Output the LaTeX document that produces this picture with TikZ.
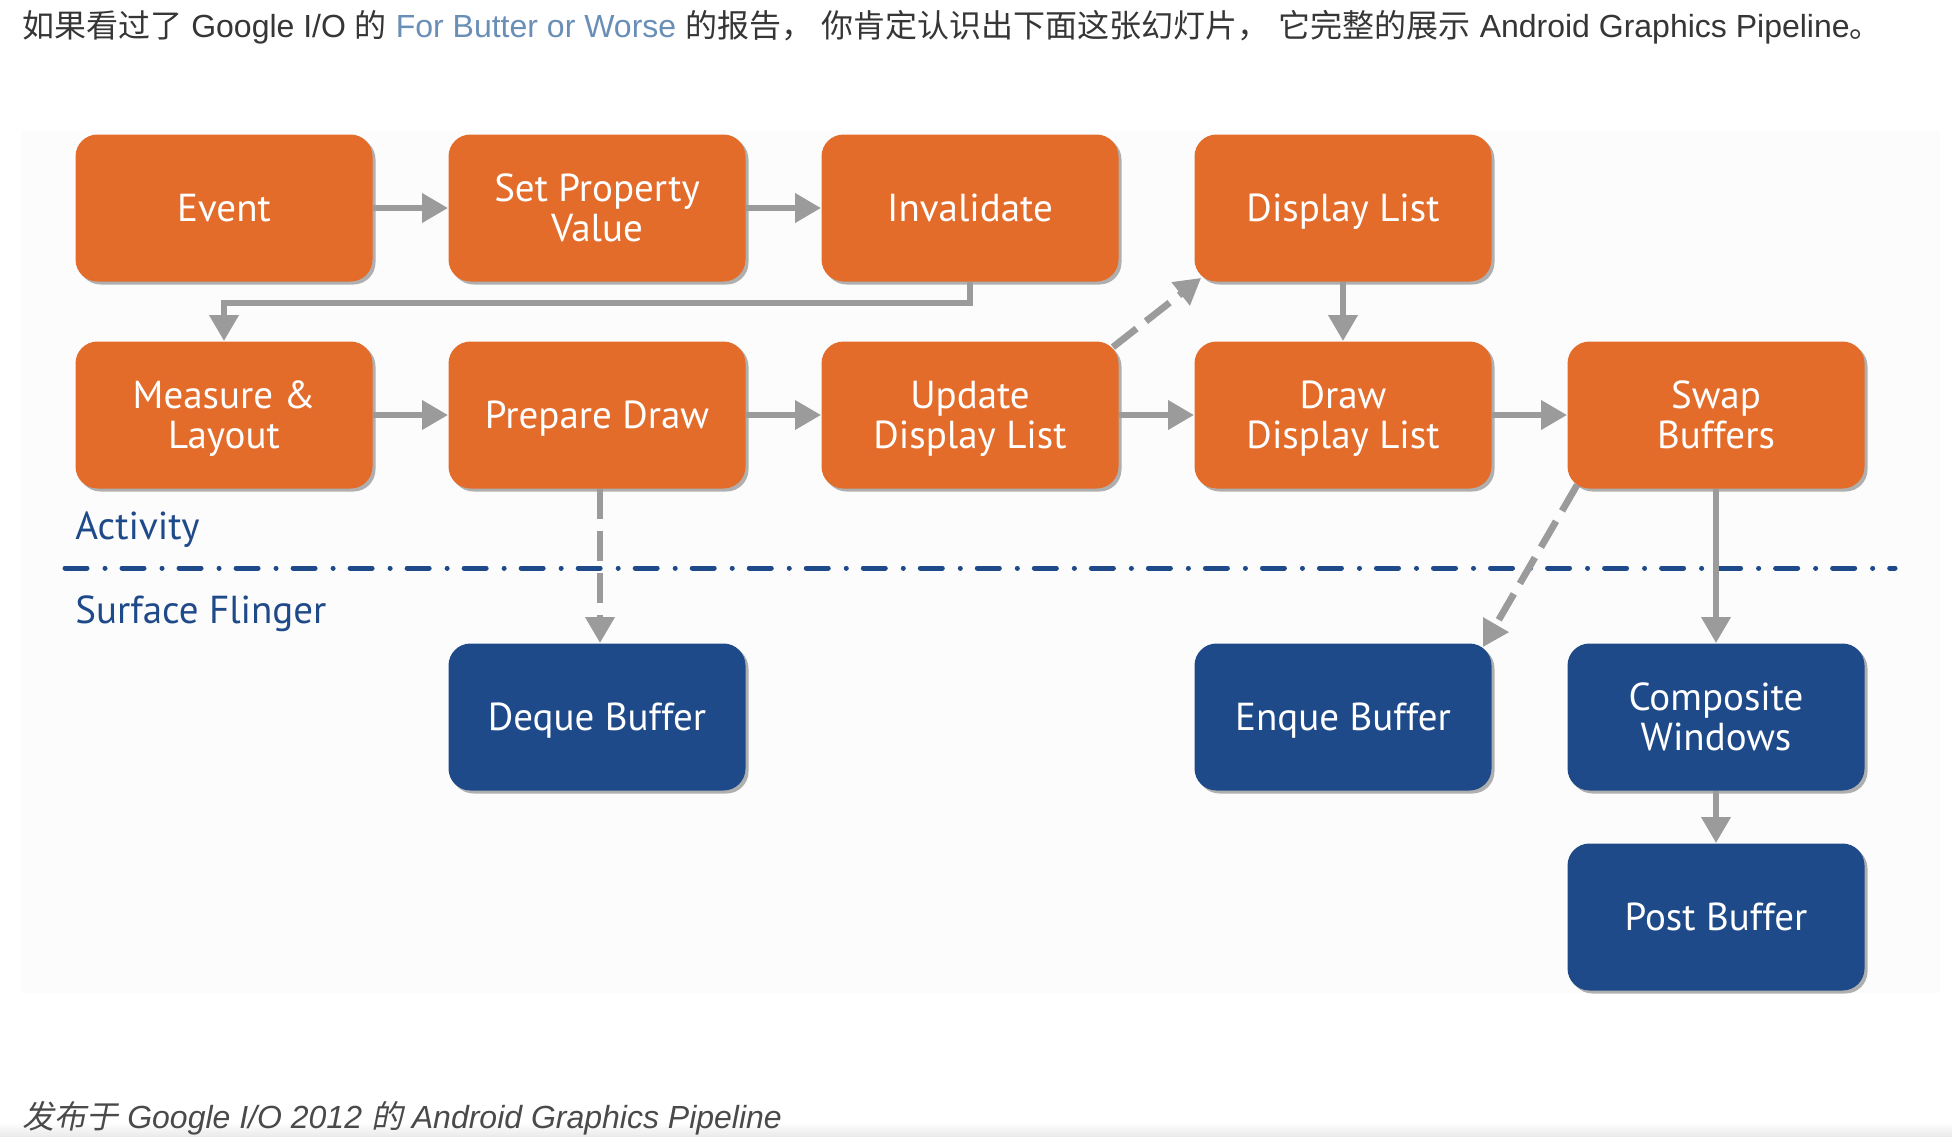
\documentclass[tikz,border=0pt]{standalone}
\usepackage{fontspec}
\setmainfont{Liberation Sans}
\newfontfamily\ptsans{PT Sans}
\newfontfamily\cjk{Noto Sans CJK SC}
\newfontfamily\cjkit[FakeSlant=0.2]{Noto Sans CJK SC}
\usetikzlibrary{arrows.meta,shadows,calc}
\definecolor{orangebox}{HTML}{E36C2B}
\definecolor{bluebox}{HTML}{1F4A8A}
\definecolor{arrowgray}{HTML}{9B9B9B}
\definecolor{linkblue}{HTML}{6A8FB7}
\definecolor{headgray}{HTML}{363636}
\definecolor{capgray}{HTML}{4A4A4A}
\definecolor{sepblue}{HTML}{1F4A8A}
\begin{document}
\begin{tikzpicture}[x=0.5pt,y=-0.5pt,
  box/.style={rounded corners=11pt, minimum width=148.5pt, minimum height=73.5pt,
    text=white, align=center, font=\ptsans\fontsize{19.5pt}{20pt}\selectfont, inner sep=0pt,
    text depth=0pt,
    drop shadow={shadow xshift=1.5pt,shadow yshift=-1.5pt,opacity=0.3,fill=black}},
  obox/.style={box, fill=orangebox},
  bbox/.style={box, fill=bluebox},
  conn/.style={draw=arrowgray, line width=3.4pt, -{Triangle[length=13pt,width=14pt]}},
  dconn/.style={conn, dash pattern=on 15pt off 6pt},
  lanelabel/.style={anchor=base west, inner sep=0pt, text=sepblue, font=\ptsans\fontsize{19.5pt}{20pt}\selectfont},
]
\useasboundingbox (0,0) rectangle (1952,1136);
\fill[white] (0,0) rectangle (1952,1136);
\fill[black!1] (22,130) rectangle (1940,993);
\shade[top color=white, bottom color=black!8] (0,1122) rectangle (1952,1136);

% header
\node[anchor=base west, inner sep=0pt, text=headgray, font=\fontsize{16pt}{18pt}\selectfont] (hdr) at (22,37)
  {{\cjk 如果看过了} Google I/O {\cjk 的} \textcolor{linkblue}{For Butter or Worse} {\cjk 的报告，} {\cjk 你肯定认识出下面这张幻灯片，} {\cjk 它完整的展示} Android Graphics Pipeline{\cjk 。}};

% boxes
\node[obox] (ev)  at (224,208)  {Event};
\node[obox] (spv) at (597,208)  {Set Property\\Value};
\node[obox] (inv) at (970,208)  {Invalidate};
\node[obox] (dl)  at (1343,208) {Display List};
\node[obox] (ml)  at (224,415)  {Measure \&\\Layout};
\node[obox] (pd)  at (597,415)  {Prepare Draw};
\node[obox] (udl) at (970,415)  {Update\\Display List};
\node[obox] (ddl) at (1343,415) {Draw\\Display List};
\node[obox] (sb)  at (1716,415) {Swap\\Buffers};
\node[bbox] (deq) at (597,717)  {Deque Buffer};
\node[bbox] (enq) at (1343,717) {Enque Buffer};
\node[bbox] (cw)  at (1716,717) {Composite\\Windows};
\node[bbox] (pb)  at (1716,917) {Post Buffer};

% lanes
\draw[sepblue, line width=2.5pt, line cap=round, dash pattern=on 11pt off 9pt on 0.01pt off 8.5pt] (65,568) -- (1895,568);
\node[lanelabel] (act) at (75,539) {Activity};
\node[lanelabel] (sf) at (75,623) {Surface Flinger};

% connectors
\draw[conn] (ev.east) -- (spv.west);
\draw[conn] (spv.east) -- (inv.west);
\draw[conn] (inv.south) -- ($(inv.south)+(0,21)$) -| (ml.north);
\draw[conn] (ml.east) -- (pd.west);
\draw[conn] (pd.east) -- (udl.west);
\draw[conn] (udl.east) -- (ddl.west);
\draw[conn] (ddl.east) -- (sb.west);
\draw[conn] (dl.south) -- (ddl.north);
\draw[dconn] ($(udl.north east)+(-6,6)$) -- ($(dl.south west)+(7,-4)$);
\draw[dconn] ($(pd.south)+(3,0)$) -- ($(deq.north)+(3,0)$);
\draw[dconn] ($(sb.south west)+(10,-4)$) -- ($(enq.north east)+(-9,4)$);
\draw[conn] (sb.south) -- (cw.north);
\draw[conn] (cw.south) -- (pb.north);

% caption
\node[anchor=base west, inner sep=0pt, text=capgray, font=\itshape\fontsize{16pt}{18pt}\selectfont] (cap) at (22,1128)
  {{\cjkit 发布于} Google I/O 2012 {\cjkit 的} Android Graphics Pipeline};
\end{tikzpicture}
\end{document}
